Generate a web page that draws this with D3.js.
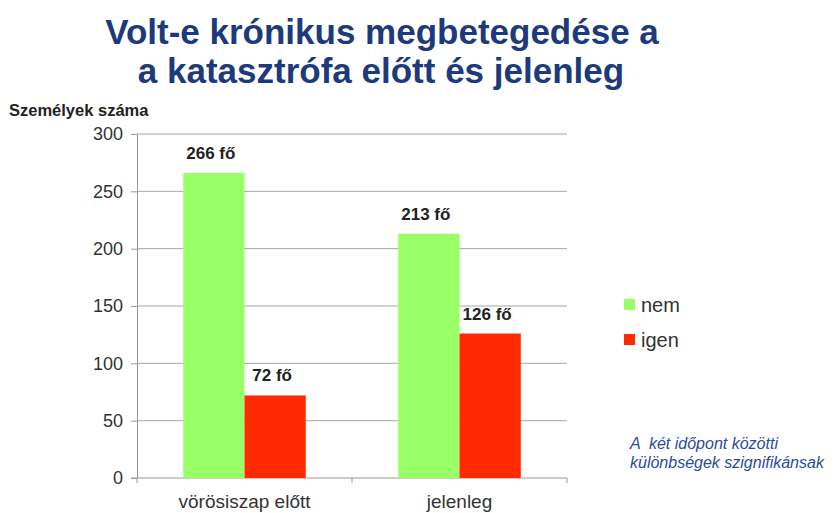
<!DOCTYPE html>
<html>
<head>
<meta charset="utf-8">
<script src="https://cdn.jsdelivr.net/npm/d3@7"></script>
<style>
  body { margin: 0; background: #fff; }
  svg { display: block; font-family: "Liberation Sans", Arial, sans-serif; }
</style>
</head>
<body>
<script>
// data
var categories = ["vörösiszap előtt", "jelenleg"];
var seriesNames = ["nem", "igen"];
var nemValues = [266, 213];
var igenValues = [72, 126];
var yTicks = [0, 50, 100, 150, 200, 250, 300];
var colors = ["#99ff66", "#ff2a00"];

var W = 840, H = 513;
var svg = d3.select("body").append("svg").attr("width", W).attr("height", H);

var mLeft = 137, mRight = 567, mTop = 134, mBottom = 478;

var x = d3.scaleBand().domain(categories).range([mLeft, mRight])
  .paddingInner(0.43).paddingOuter(0.215);
var xs = d3.scaleBand().domain(seriesNames).range([0, x.bandwidth()]);
var y = d3.scaleLinear().domain([0, 300]).range([mBottom, mTop]);

// title
svg.append("text").attr("x", 382).attr("y", 44).attr("text-anchor", "middle")
  .attr("font-size", 35).attr("font-weight", "bold").attr("fill", "#1c3a7c")
  .text("Volt-e krónikus megbetegedése a");
svg.append("text").attr("x", 381).attr("y", 83).attr("text-anchor", "middle")
  .attr("font-size", 35).attr("font-weight", "bold").attr("fill", "#1c3a7c")
  .text("a katasztrófa előtt és jelenleg");

// y axis title
svg.append("text").attr("x", 9).attr("y", 116)
  .attr("font-size", 16.5).attr("font-weight", "bold").attr("fill", "#222")
  .text("Személyek száma");

// gridlines
svg.append("g").selectAll("line").data(yTicks.slice(1)).join("line")
  .attr("x1", mLeft).attr("x2", mRight)
  .attr("y1", d => y(d)).attr("y2", d => y(d))
  .attr("stroke", "#a6a6a6").attr("stroke-width", 1);

// y axis
var yAxis = svg.append("g").attr("transform", "translate(" + mLeft + ",0)")
  .call(d3.axisLeft(y).tickValues(yTicks).tickSize(6).tickPadding(8)
    .tickSizeOuter(0));
yAxis.select(".domain").attr("stroke", "#999");
yAxis.selectAll(".tick line").attr("stroke", "#999");
yAxis.selectAll(".tick text").attr("font-size", 18).attr("fill", "#333")
  .attr("font-family", "Liberation Sans, Arial, sans-serif");

// x axis
var xAxis = svg.append("g").attr("transform", "translate(0," + mBottom + ")")
  .call(d3.axisBottom(x).tickSize(0).tickPadding(17));
xAxis.select(".domain").remove();
xAxis.selectAll(".tick text").attr("font-size", 19).attr("fill", "#333")
  .attr("font-family", "Liberation Sans, Arial, sans-serif");
svg.append("line").attr("x1", mLeft - 6).attr("x2", mRight)
  .attr("y1", mBottom).attr("y2", mBottom).attr("stroke", "#999");
var xTickPos = [mLeft, mLeft + x.step(), mRight];
svg.selectAll(".xtick").data(xTickPos).join("line").attr("class", "xtick")
  .attr("x1", d => d).attr("x2", d => d)
  .attr("y1", mBottom).attr("y2", mBottom + 5).attr("stroke", "#999");

// bars
var rows = categories.map((c, i) => ({ cat: c, vals: [nemValues[i], igenValues[i]] }));
rows.forEach(function (r) {
  r.vals.forEach(function (v, j) {
    var bx = x(r.cat) + xs(seriesNames[j]);
    svg.append("rect").attr("x", bx).attr("y", y(v))
      .attr("width", xs.bandwidth()).attr("height", mBottom - y(v))
      .attr("fill", colors[j]);
    svg.append("text").attr("x", bx + xs.bandwidth() / 2 - 3).attr("y", y(v) - 14)
      .attr("text-anchor", "middle").attr("font-size", 17).attr("font-weight", "bold")
      .attr("fill", "#222").text(v + " fő");
  });
});

// legend
seriesNames.forEach(function (s, j) {
  var ly = 305 + j * 35;
  svg.append("rect").attr("x", 624).attr("y", ly - 6).attr("width", 11).attr("height", 11)
    .attr("fill", colors[j]);
  svg.append("text").attr("x", 641).attr("y", ly + 7).attr("font-size", 20)
    .attr("fill", "#333").text(s);
});

// note
svg.append("text").attr("x", 630).attr("y", 449).attr("font-size", 16)
  .attr("font-style", "italic").attr("fill", "#2a4a9e").attr("xml:space", "preserve")
  .text("A  két időpont közötti");
svg.append("text").attr("x", 630).attr("y", 468).attr("font-size", 16)
  .attr("font-style", "italic").attr("fill", "#2a4a9e")
  .text("különbségek szignifikánsak");
</script>
</body>
</html>
